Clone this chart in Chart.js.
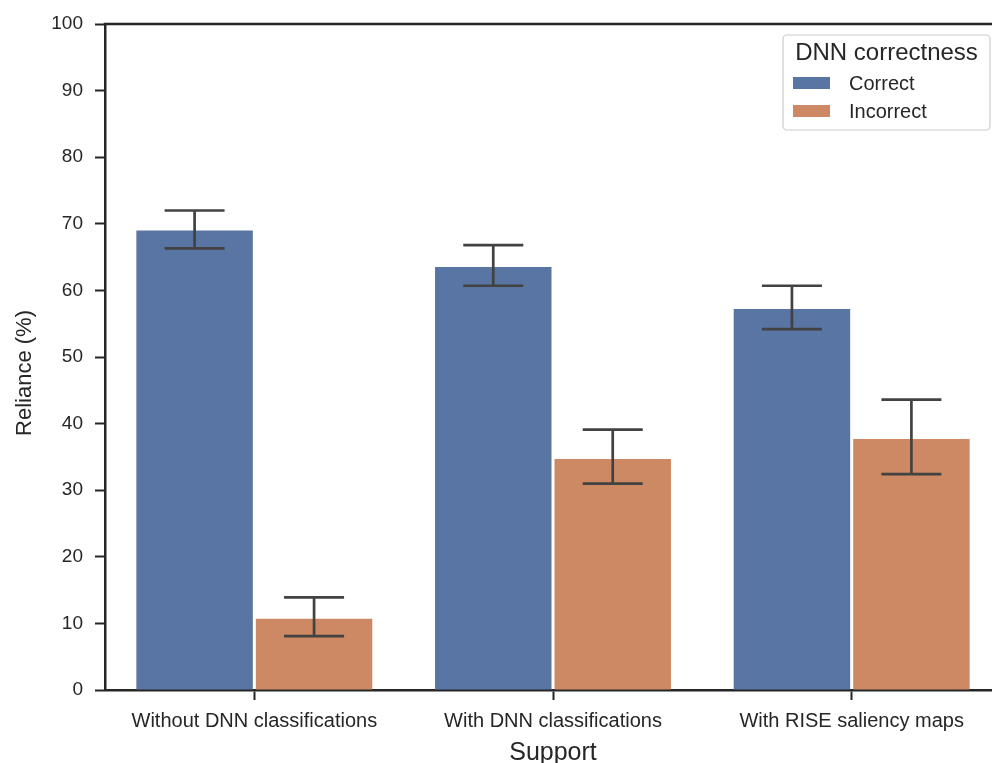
<!DOCTYPE html>
<html>
<head>
<meta charset="utf-8">
<script src="https://cdn.jsdelivr.net/npm/chart.js@4.4.1/dist/chart.umd.min.js"></script>
<style>
  html, body { margin: 0; padding: 0; background: #ffffff; overflow: hidden; }
  #wrap { position: relative; width: 992px; height: 763px; overflow: hidden; }
  #c { position: absolute; left: 0; top: 0; }
</style>
</head>
<body>
<div id="wrap"><canvas id="c" width="1002" height="763"></canvas></div>
<script>
// Reliance by support type, split by whether the DNN was correct
const categories = ['Without DNN classifications', 'With DNN classifications', 'With RISE saliency maps'];
const seriesNames = ['Correct', 'Incorrect'];
const legendTitle = 'DNN correctness';
const yTitle = 'Reliance (%)';

const correctMean = [69.0, 63.5, 57.2];
const correctLow  = [66.3, 60.7, 54.2];
const correctHigh = [72.0, 66.8, 60.7];

const incorrectMean = [10.7, 34.7, 37.7];
const incorrectLow  = [8.1, 31.0, 32.4];
const incorrectHigh = [13.9, 39.1, 43.6];

const yTicks = [0, 10, 20, 30, 40, 50, 60, 70, 80, 90, 100];

const FONT = '"Liberation Sans", Arial, Helvetica, sans-serif';
const INK = '#262626';
const COLORS = ['#5975a4', '#cc8963'];
const errLow = [correctLow, incorrectLow];
const errHigh = [correctHigh, incorrectHigh];

// Confidence-interval whiskers drawn on top of each bar
const errorBars = {
  id: 'errorBars',
  afterDatasetsDraw(chart) {
    const ctx = chart.ctx;
    const y = chart.scales.y;
    ctx.save();
    ctx.strokeStyle = '#424242';
    ctx.lineWidth = 2.7;
    ctx.lineCap = 'butt';
    chart.data.datasets.forEach((ds, i) => {
      const meta = chart.getDatasetMeta(i);
      meta.data.forEach((bar, j) => {
        const x = bar.x;
        const yl = y.getPixelForValue(errLow[i][j]);
        const yh = y.getPixelForValue(errHigh[i][j]);
        const half = 30;
        ctx.beginPath();
        ctx.moveTo(x, yl); ctx.lineTo(x, yh);
        ctx.moveTo(x - half, yl); ctx.lineTo(x + half, yl);
        ctx.moveTo(x - half, yh); ctx.lineTo(x + half, yh);
        ctx.stroke();
      });
    });
    ctx.restore();
  }
};

// Top spine and the rotated y-axis title
const frame = {
  id: 'frame',
  afterDraw(chart) {
    const { ctx, chartArea: a } = chart;
    ctx.save();
    ctx.strokeStyle = INK;
    ctx.lineWidth = 2.5;
    ctx.beginPath();
    ctx.moveTo(a.left - 1.25, a.top);
    ctx.lineTo(a.right, a.top);
    ctx.stroke();

    ctx.translate(25, a.top + (a.bottom - a.top) / 2 + 16);
    ctx.rotate(-Math.PI / 2);
    ctx.fillStyle = INK;
    ctx.font = '22px ' + FONT;
    ctx.textAlign = 'center';
    ctx.textBaseline = 'middle';
    ctx.fillText(yTitle, 0, 0);
    ctx.restore();
  }
};

// Boxed legend in the upper right corner of the plot
const boxLegend = {
  id: 'boxLegend',
  afterDraw(chart) {
    const { ctx, chartArea: a } = chart;
    const w = 207, h = 95;
    const x0 = 783, y0 = a.top + 11;
    ctx.save();
    ctx.fillStyle = 'rgba(255,255,255,0.8)';
    ctx.strokeStyle = '#cccccc';
    ctx.lineWidth = 1.2;
    ctx.beginPath();
    ctx.roundRect(x0, y0, w, h, 4);
    ctx.fill();
    ctx.stroke();

    ctx.fillStyle = INK;
    ctx.textAlign = 'center';
    ctx.textBaseline = 'middle';
    ctx.font = '24px ' + FONT;
    ctx.fillText(legendTitle, x0 + w / 2, y0 + 18);

    ctx.font = '20px ' + FONT;
    ctx.textAlign = 'left';
    seriesNames.forEach((name, i) => {
      const cy = y0 + 48 + i * 28;
      ctx.fillStyle = COLORS[i];
      ctx.fillRect(x0 + 10, cy - 6, 37, 12);
      ctx.fillStyle = INK;
      ctx.fillText(name, x0 + 66, cy + 1);
    });
    ctx.restore();
  }
};

new Chart(document.getElementById('c'), {
  type: 'bar',
  data: {
    labels: categories,
    datasets: [
      { label: seriesNames[0], data: correctMean, backgroundColor: COLORS[0], borderWidth: 0 },
      { label: seriesNames[1], data: incorrectMean, backgroundColor: COLORS[1], borderWidth: 0 }
    ]
  },
  options: {
    responsive: false,
    animation: false,
    devicePixelRatio: 1,
    layout: { padding: { top: 24, right: 1, left: 0, bottom: 0 } },
    datasets: { bar: { categoryPercentage: 0.8, barPercentage: 0.975 } },
    plugins: { legend: { display: false }, tooltip: { enabled: false } },
    scales: {
      x: {
        grid: { display: true, drawOnChartArea: false, drawTicks: true, tickLength: 10, tickWidth: 2, color: INK, offset: false },
        border: { display: true, color: INK, width: 2.5 },
        ticks: { color: INK, font: { family: FONT, size: 20 }, padding: 9, maxRotation: 0, autoSkip: false },
        title: { display: true, text: 'Support', color: INK, font: { family: FONT, size: 25 }, padding: { top: 0, bottom: -5 } },
        afterFit(s) { s.height = 73; }
      },
      y: {
        min: 0, max: 100,
        afterBuildTicks(s) { s.ticks = yTicks.map(v => ({ value: v })); },
        grid: { display: true, drawOnChartArea: false, drawTicks: true, tickLength: 10, tickWidth: 2, color: INK },
        border: { display: true, color: INK, width: 2.5 },
        ticks: { color: INK, font: { family: FONT, size: 19 }, padding: 12 },
        title: { display: false },
        afterFit(s) { s.width = 105; }
      }
    }
  },
  plugins: [errorBars, frame, boxLegend]
});
</script>
</body>
</html>
